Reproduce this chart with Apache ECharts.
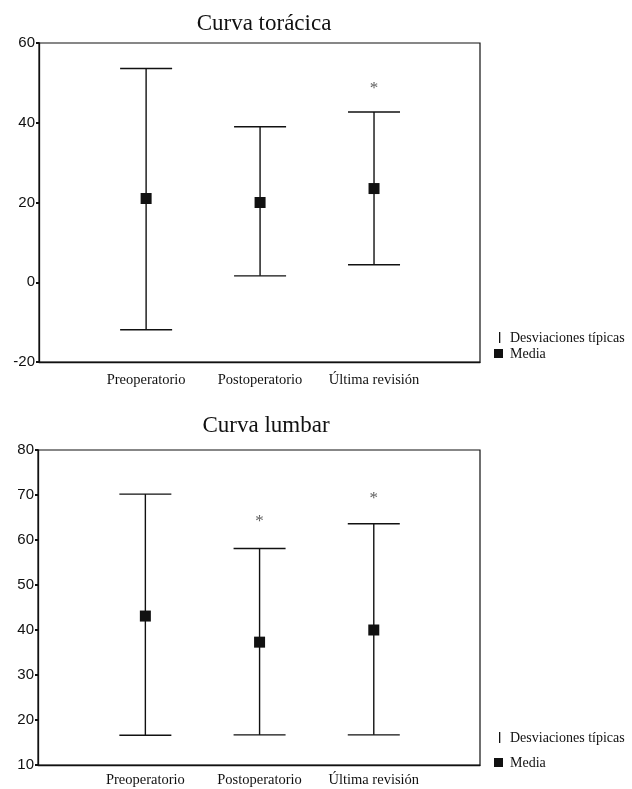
<!DOCTYPE html>
<html>
<head>
<meta charset="utf-8">
<script src="https://cdn.jsdelivr.net/npm/echarts@6/dist/echarts.min.js"></script>
<style>
html,body{margin:0;padding:0;background:#fff;}
#c{width:632px;height:789px;}
</style>
</head>
<body>
<div id="c"></div>
<script>
const categories = ['Preoperatorio', 'Postoperatorio', 'Última revisión'];
const catPos = [1, 2, 3];

// Curva torácica
const thorMean = [21.0, 20.0, 23.5];
const thorLow = [-11.9, 1.6, 4.4];
const thorHigh = [53.6, 39.0, 42.7];
const thorStar = [null, null, 48.7];

// Curva lumbar
const lumbMean = [43.1, 37.3, 40.0];
const lumbLow = [16.6, 16.7, 16.7];
const lumbHigh = [70.2, 58.1, 63.6];
const lumbStar = [null, 64.1, 69.3];

const legendLabels = ['Desviaciones típicas', 'Media'];
const titles = ['Curva torácica', 'Curva lumbar'];

const SERIF = '"Liberation Serif", "Times New Roman", serif';
const SANS = '"Liberation Sans", Arial, sans-serif';
const INK = '#111';

function errRender(params, api) {
  const x = api.value(0);
  const lo = api.coord([x, api.value(1)]);
  const hi = api.coord([x, api.value(2)]);
  const hw = 26;
  const st = { stroke: INK, lineWidth: 1.4 };
  return {
    type: 'group',
    children: [
      { type: 'line', shape: { x1: lo[0], y1: lo[1], x2: hi[0], y2: hi[1] }, style: st },
      { type: 'line', shape: { x1: hi[0] - hw, y1: hi[1], x2: hi[0] + hw, y2: hi[1] }, style: st },
      { type: 'line', shape: { x1: lo[0] - hw, y1: lo[1], x2: lo[0] + hw, y2: lo[1] }, style: st }
    ]
  };
}

function xAxisDef(gridIndex, margin) {
  return {
    type: 'value', gridIndex: gridIndex, min: 0.06, max: 3.93,
    axisLine: { show: true, onZero: false, lineStyle: { color: INK, width: 1.3 } },
    axisTick: { show: false },
    splitLine: { show: false },
    axisLabel: {
      customValues: catPos,
      formatter: v => categories[Math.round(v) - 1],
      fontFamily: SERIF, fontSize: 14.5, color: INK, margin: margin
    }
  };
}
function yAxisDef(gridIndex, min, max, interval) {
  return {
    type: 'value', gridIndex: gridIndex, min: min, max: max, interval: interval,
    axisLine: { show: true, onZero: false, lineStyle: { color: INK, width: 1.3 } },
    axisTick: { show: true, length: 3, lineStyle: { color: INK, width: 2 } },
    splitLine: { show: false },
    axisLabel: { fontFamily: SANS, fontSize: 15, color: INK, margin: 4 }
  };
}

const zip3 = (a, b, c) => catPos.map((x, i) => [x, b[i], c[i]]);
const zip2 = (b) => catPos.map((x, i) => [x, b[i]]);
const starData = (s) => catPos.map((x, i) => s[i] == null ? null : [x, s[i]]).filter(d => d);

function legendGraphics(y1, y2) {
  return [
    { type: 'rect', shape: { x: 499, y: y1 - 6, width: 1.3, height: 11 }, style: { fill: INK } },
    { type: 'text', x: 510, y: y1, style: { text: legendLabels[0], fontFamily: SERIF, fontSize: 14, fill: INK, verticalAlign: 'middle' } },
    { type: 'rect', shape: { x: 494, y: y2 - 5, width: 9, height: 9 }, style: { fill: INK } },
    { type: 'text', x: 510, y: y2, style: { text: legendLabels[1], fontFamily: SERIF, fontSize: 14, fill: INK, verticalAlign: 'middle' } }
  ];
}

const meanStyle = { color: INK, opacity: 1 };
const starLabel = { show: true, position: 'inside', formatter: '*', fontFamily: SERIF, fontSize: 17, color: '#333' };

const chart = echarts.init(document.getElementById('c'));
chart.setOption({
  backgroundColor: '#fff',
  animation: false,
  title: [
    { text: titles[0], left: 259, top: 7, textAlign: 'center',
      textStyle: { fontFamily: SERIF, fontSize: 23, fontWeight: 'normal', color: INK } },
    { text: titles[1], left: 261, top: 409, textAlign: 'center',
      textStyle: { fontFamily: SERIF, fontSize: 23, fontWeight: 'normal', color: INK } }
  ],
  grid: [
    { left: 39, top: 43, width: 441, height: 319, show: true, borderColor: INK, borderWidth: 1.2 },
    { left: 38, top: 450, width: 442, height: 315, show: true, borderColor: INK, borderWidth: 1.2 }
  ],
  xAxis: [xAxisDef(0, 11), xAxisDef(1, 8)],
  yAxis: [yAxisDef(0, -20, 60, 20), yAxisDef(1, 10, 80, 10)],
  graphic: legendGraphics(338, 354).concat(legendGraphics(738, 763)),
  series: [
    { type: 'custom', xAxisIndex: 0, yAxisIndex: 0, renderItem: errRender,
      encode: { x: 0, y: [1, 2] }, data: zip3(catPos, thorLow, thorHigh), z: 2 },
    { type: 'scatter', xAxisIndex: 0, yAxisIndex: 0, symbol: 'rect', symbolSize: 11,
      itemStyle: meanStyle, data: zip2(thorMean), z: 3 },
    { type: 'scatter', xAxisIndex: 0, yAxisIndex: 0, symbolSize: 0,
      label: starLabel, data: starData(thorStar) },
    { type: 'custom', xAxisIndex: 1, yAxisIndex: 1, renderItem: errRender,
      encode: { x: 0, y: [1, 2] }, data: zip3(catPos, lumbLow, lumbHigh), z: 2 },
    { type: 'scatter', xAxisIndex: 1, yAxisIndex: 1, symbol: 'rect', symbolSize: 11,
      itemStyle: meanStyle, data: zip2(lumbMean), z: 3 },
    { type: 'scatter', xAxisIndex: 1, yAxisIndex: 1, symbolSize: 0,
      label: starLabel, data: starData(lumbStar) }
  ]
});
</script>
</body>
</html>
